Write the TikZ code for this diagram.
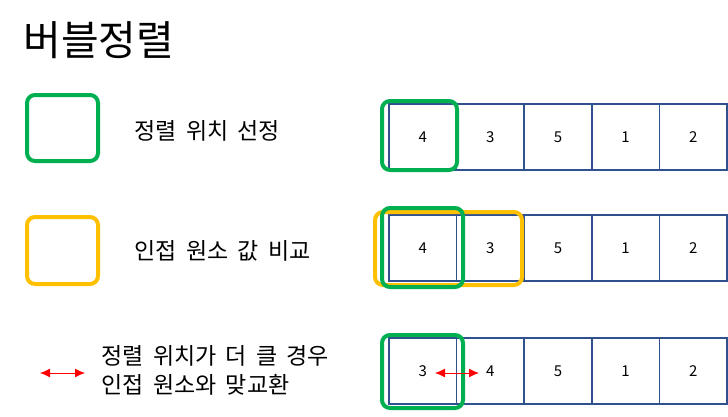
\documentclass[tikz,border=0pt]{standalone}
\usepackage{fontspec}
\setmainfont{Noto Sans CJK KR}[WordSpace=1.8]
\definecolor{cellblue}{RGB}{47,82,143}
\definecolor{selgreen}{RGB}{0,176,80}
\definecolor{cmporange}{RGB}{255,192,0}
\tikzset{
  cell/.style={draw=cellblue, line width=1.5pt, minimum width=67.6pt, minimum height=66pt, inner sep=0pt, font=\fontsize{15}{18}\selectfont},
  selbox/.style={draw=selgreen, line width=4pt, rounded corners=8pt},
  cmpbox/.style={draw=cmporange, line width=4pt, rounded corners=8pt},
  legend/.style={anchor=west, font=\fontsize{23}{29}\selectfont},
  swap/.style={red, line width=1pt, {Latex[length=10pt,width=9pt]}-{Latex[length=10pt,width=9pt]}}
}
\usetikzlibrary{arrows.meta}
\begin{document}
\begin{tikzpicture}[x=1pt, y=-1pt]
  \useasboundingbox (0,0) rectangle (728,416);

  % title
  \node[anchor=west, font=\fontsize{41}{46}\selectfont] (title) at (20,40) {버블정렬};

  % legend
  \draw[selbox] (27,95) rectangle (98,161);
  \node[legend] (lsel) at (131,131) {정렬 위치 선정};
  \draw[cmpbox] (27,217) rectangle (98,284);
  \node[legend] (lcmp) at (131,251) {인접 원소 값 비교};
  \coordinate (la) at (40,373);
  \coordinate (lb) at (85,373);
  \draw[swap] (la) -- (lb);
  \node[legend, align=left] (lswap) at (98,370) {정렬 위치가 더 클 경우\\인접 원소와 맞교환};

  % rows of cells
  \foreach \r/\y/\vals in {a/137/{4,3,5,1,2}, b/248/{4,3,5,1,2}, c/371/{3,4,5,1,2}} {
    \foreach \v [count=\i] in \vals {
      \node[cell] (\r\i) at (389+33.8+67.6*\i-67.6,\y) {\v};
    }
  }

  % highlights
  \draw[selbox] (382,101) rectangle (457,170);
  \draw[cmpbox] (375,212) rectangle (522,285);
  \draw[selbox] (382,208) rectangle (463,287);
  \draw[selbox] (382,335) rectangle (463,408);

  % swap arrow
  \coordinate (sa) at (435,373);
  \coordinate (sb) at (479,373);
  \draw[swap] (sa) -- (sb);
\end{tikzpicture}
\end{document}
